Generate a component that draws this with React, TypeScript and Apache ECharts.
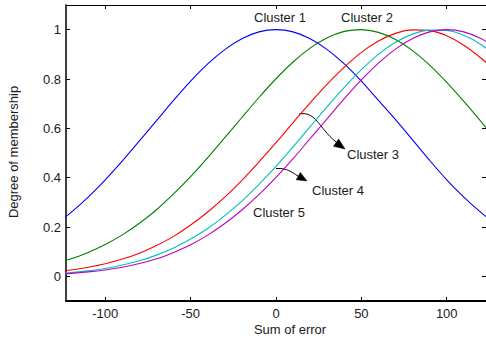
import React, { useEffect, useRef } from "react";
import * as echarts from "echarts";

const xValues = [-130, -120, -110, -100, -90, -80, -70, -60, -50, -40, -30, -20, -10, 0, 10, 20, 30, 40, 50, 60, 70, 80, 90, 100, 110, 120, 130];
const cluster1 = [0.205, 0.259, 0.321, 0.391, 0.468, 0.549, 0.631, 0.713, 0.791, 0.861, 0.919, 0.963, 0.991, 1.0, 0.991, 0.963, 0.919, 0.861, 0.791, 0.713, 0.635, 0.553, 0.47, 0.391, 0.321, 0.259, 0.205];
const cluster2 = [0.052, 0.071, 0.097, 0.129, 0.168, 0.215, 0.27, 0.334, 0.404, 0.481, 0.562, 0.644, 0.725, 0.801, 0.869, 0.925, 0.967, 0.993, 1.0, 0.989, 0.96, 0.915, 0.856, 0.786, 0.709, 0.628, 0.545];
const cluster3 = [0.018, 0.026, 0.037, 0.051, 0.07, 0.094, 0.125, 0.162, 0.208, 0.261, 0.321, 0.389, 0.464, 0.542, 0.623, 0.703, 0.779, 0.848, 0.908, 0.954, 0.985, 0.999, 0.996, 0.975, 0.937, 0.885, 0.822];
const cluster4 = [0.01, 0.015, 0.022, 0.032, 0.046, 0.063, 0.086, 0.115, 0.151, 0.194, 0.246, 0.305, 0.373, 0.446, 0.525, 0.607, 0.688, 0.766, 0.838, 0.9, 0.949, 0.982, 0.998, 0.997, 0.977, 0.94, 0.888];
const cluster5 = [0.008, 0.012, 0.018, 0.026, 0.037, 0.052, 0.071, 0.097, 0.128, 0.167, 0.214, 0.269, 0.331, 0.401, 0.477, 0.558, 0.639, 0.72, 0.796, 0.864, 0.921, 0.964, 0.991, 1.0, 0.991, 0.964, 0.921];

const seriesNames = ["Cluster 1", "Cluster 2", "Cluster 3", "Cluster 4", "Cluster 5"];
const seriesColors = ["#0000ff", "#008000", "#ff0000", "#00bfbf", "#bf00bf"];
const seriesValues = [cluster1, cluster2, cluster3, cluster4, cluster5];

const xTicks = [-100, -50, 0, 50, 100];
const yTicks = [0, 0.2, 0.4, 0.6, 0.8, 1];
const xMin = -123;
const xMax = 123;
const yMin = -0.1;
const yMax = 1.1;

const xTitle = "Sum of error";
const yTitle = "Degree of membership";

const FONT = "'Liberation Sans', Arial, sans-serif";
const TXT = "#1a1a1a";

function arrowHead(tipX: number, tipY: number, dx: number, dy: number, len: number, half: number) {
  const n = Math.sqrt(dx * dx + dy * dy);
  const ux = dx / n;
  const uy = dy / n;
  const bx = tipX - ux * len;
  const by = tipY - uy * len;
  return [
    [tipX, tipY],
    [bx - uy * half, by + ux * half],
    [bx + uy * half, by - ux * half],
  ];
}

export default function App() {
  const ref = useRef<HTMLDivElement>(null);

  useEffect(() => {
    if (!ref.current) return;
    const chart = echarts.init(ref.current, undefined, { renderer: "svg" });

    const mkLine = (w: number) => ({ show: true, onZero: false, lineStyle: { color: "#000", width: w } });
    const xAxisBase = {
      type: "value" as const,
      min: xMin,
      max: xMax,
      splitLine: { show: false },
      axisTick: { show: true, inside: true, length: 4, customValues: xTicks, lineStyle: { color: "#000" } },
    };
    const yAxisBase = {
      type: "value" as const,
      min: yMin,
      max: yMax,
      splitLine: { show: false },
      axisTick: { show: true, inside: true, length: 4, customValues: yTicks, lineStyle: { color: "#000" } },
    };

    const textStyle = { fontFamily: FONT, fontSize: 13, fill: TXT };

    chart.setOption({
      animation: false,
      backgroundColor: "#ffffff",
      grid: { left: 66, right: 0, top: 5, bottom: 42, containLabel: false },
      xAxis: [
        {
          ...xAxisBase,
          position: "bottom",
          axisLine: mkLine(2),
          axisLabel: { customValues: xTicks, margin: 6, fontSize: 13, color: TXT, fontFamily: FONT },
        },
        {
          ...xAxisBase,
          position: "top",
          axisLine: mkLine(1),
          axisLabel: { show: false, customValues: xTicks },
        },
      ],
      yAxis: [
        {
          ...yAxisBase,
          position: "left",
          axisLine: mkLine(1.5),
          axisLabel: { customValues: yTicks, margin: 5, fontSize: 13, color: TXT, fontFamily: FONT },
        },
        {
          ...yAxisBase,
          position: "right",
          axisLine: mkLine(1),
          axisLabel: { show: false, customValues: yTicks },
        },
      ],
      series: seriesValues.map((vals, i) => ({
        name: seriesNames[i],
        type: "line",
        xAxisIndex: 0,
        yAxisIndex: 0,
        data: xValues.map((x, j) => [x, vals[j]]),
        showSymbol: false,
        smooth: 0.3,
        lineStyle: { color: seriesColors[i], width: 1.1 },
        itemStyle: { color: seriesColors[i] },
      })),
      graphic: [
        { type: "text", x: 290, y: 329, style: { ...textStyle, text: xTitle, textAlign: "center", textVerticalAlign: "middle" } },
        { type: "text", x: 13, y: 152, rotation: Math.PI / 2, style: { ...textStyle, text: yTitle, textAlign: "center", textVerticalAlign: "middle" } },
        { type: "text", x: 254, y: 17, style: { ...textStyle, text: seriesNames[0], textAlign: "left", textVerticalAlign: "middle" } },
        { type: "text", x: 341, y: 17, style: { ...textStyle, text: seriesNames[1], textAlign: "left", textVerticalAlign: "middle" } },
        { type: "text", x: 347, y: 154, style: { ...textStyle, text: seriesNames[2], textAlign: "left", textVerticalAlign: "middle" } },
        { type: "text", x: 312, y: 190, style: { ...textStyle, text: seriesNames[3], textAlign: "left", textVerticalAlign: "middle" } },
        { type: "text", x: 253, y: 212, style: { ...textStyle, text: seriesNames[4], textAlign: "left", textVerticalAlign: "middle" } },
        {
          type: "bezierCurve",
          shape: { x1: 299, y1: 114, cpx1: 316, cpy1: 111, cpx2: 318, cpy2: 127, x2: 336, y2: 142 },
          style: { stroke: "#000", lineWidth: 1, fill: "none" },
        },
        {
          type: "polygon",
          shape: { points: arrowHead(345, 149, 17, 12, 11, 4.5) },
          style: { fill: "#000", stroke: "#000", lineWidth: 0.5 },
        },
        {
          type: "bezierCurve",
          shape: { x1: 276, y1: 168.5, cpx1: 288, cpy1: 168, cpx2: 291, cpy2: 172, x2: 298, y2: 176 },
          style: { stroke: "#000", lineWidth: 1, fill: "none" },
        },
        {
          type: "polygon",
          shape: { points: arrowHead(307, 181, 16, 9, 10, 4.2) },
          style: { fill: "#000", stroke: "#000", lineWidth: 0.5 },
        },
      ],
    });

    return () => {
      chart.dispose();
    };
  }, []);

  return (
    <div
      ref={ref}
      style={{ position: "fixed", left: 0, top: 0, width: 486, height: 343, background: "#fff" }}
    />
  );
}
